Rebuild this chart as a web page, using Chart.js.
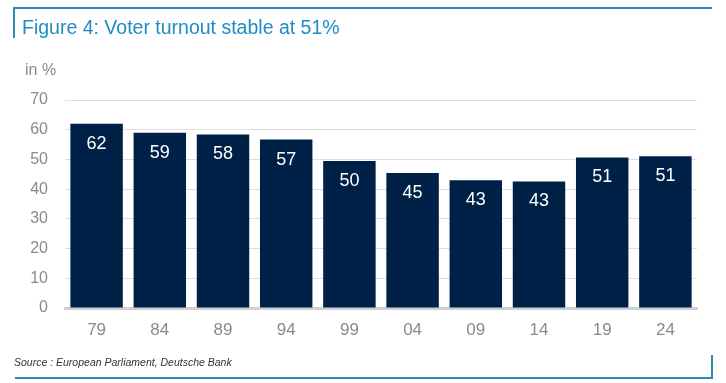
<!DOCTYPE html>
<html>
<head>
<meta charset="utf-8">
<script src="https://cdn.jsdelivr.net/npm/chart.js@4/dist/chart.umd.min.js"></script>
<style>
  html, body { margin: 0; padding: 0; background: #fff; }
  #wrap { position: relative; width: 726px; height: 383px; overflow: hidden; font-family: "Liberation Sans", Arial, sans-serif; }
  #c { position: absolute; left: 0; top: 0; }
  .ln { position: absolute; background: #2a8cb6; }
  #title { position: absolute; left: 22px; top: 16px; font-size: 19.5px; color: #1f8cc4; white-space: nowrap; }
  #unit { position: absolute; left: 25px; top: 61px; font-size: 16px; color: #8a8a8a; }
  #source { position: absolute; left: 14px; top: 356px; font-size: 10.5px; font-style: italic; color: #333; white-space: nowrap; }
</style>
</head>
<body>
<div id="wrap">
  <canvas id="c" width="726" height="383"></canvas>
  <div class="ln" style="left:13px; top:7px; width:699px; height:2px;"></div>
  <div class="ln" style="left:13px; top:7px; width:2px; height:31px;"></div>
  <div class="ln" style="left:15px; top:377px; width:698px; height:2px;"></div>
  <div class="ln" style="left:711px; top:355px; width:2px; height:24px;"></div>
  <div id="title">Figure 4: Voter turnout stable at 51%</div>
  <div id="unit">in %</div>
  <div id="source">Source : European Parliament, Deutsche Bank</div>
</div>
<script>
const categories = ["79", "84", "89", "94", "99", "04", "09", "14", "19", "24"];
const turnout = [61.99, 58.98, 58.41, 56.67, 49.51, 45.47, 42.97, 42.61, 50.66, 51.08];
const yTicks = [0, 10, 20, 30, 40, 50, 60, 70];

const valueLabels = {
  id: 'valueLabels',
  afterDatasetsDraw(chart) {
    const ctx = chart.ctx;
    const meta = chart.getDatasetMeta(0);
    ctx.save();
    ctx.fillStyle = '#ffffff';
    ctx.font = '18px "Liberation Sans", Arial, sans-serif';
    ctx.textAlign = 'center';
    ctx.textBaseline = 'middle';
    meta.data.forEach((bar, i) => {
      ctx.fillText(String(Math.round(turnout[i])), bar.x, bar.y + 20);
    });
    ctx.restore();
  }
};

new Chart(document.getElementById('c'), {
  type: 'bar',
  data: {
    labels: categories,
    datasets: [{
      data: turnout,
      backgroundColor: '#002147',
      borderWidth: 0,
      barPercentage: 0.83,
      categoryPercentage: 1.0
    }]
  },
  options: {
    responsive: false,
    animation: false,
    events: [],
    layout: { padding: { top: 100, right: 29, left: 0, bottom: 0 } },
    plugins: { legend: { display: false }, tooltip: { enabled: false }, title: { display: false } },
    scales: {
      x: {
        grid: { display: false, drawTicks: false },
        border: { display: true, color: '#d0d0d0', width: 3 },
        ticks: { color: '#8a8a8a', font: { size: 17, family: '"Liberation Sans", Arial, sans-serif' }, padding: 12, maxRotation: 0 },
        afterFit(s) { s.height = 75; }
      },
      y: {
        min: 0, max: 70,
        afterBuildTicks(s) { s.ticks = yTicks.map(v => ({ value: v })); },
        grid: { color: '#dedede', lineWidth: 1, drawTicks: false },
        border: { display: false },
        ticks: { color: '#8a8a8a', font: { size: 16, family: '"Liberation Sans", Arial, sans-serif' }, padding: 17 },
        afterFit(s) { s.width = 65; }
      }
    }
  },
  plugins: [valueLabels]
});
</script>
</body>
</html>
